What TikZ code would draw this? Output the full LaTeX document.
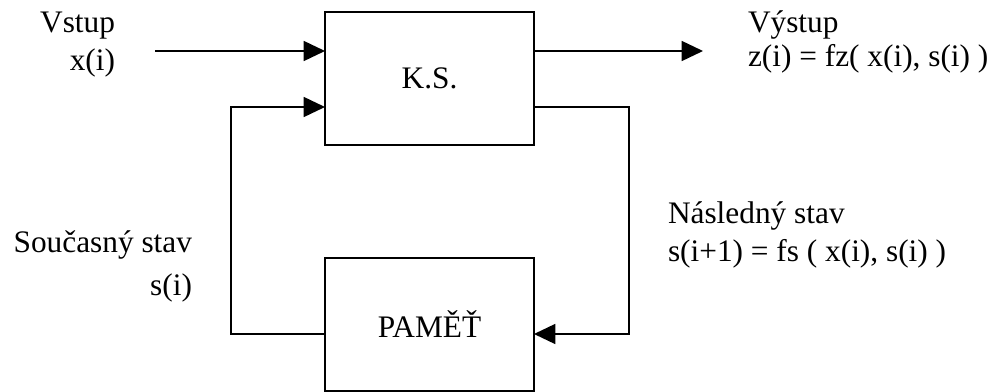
\documentclass[tikz,border=0pt]{standalone}
\usepackage{fontspec}
\setmainfont{Liberation Serif}
\usetikzlibrary{arrows.meta}
\begin{document}
\begin{tikzpicture}[x=0.75pt,y=-0.75pt,
  every node/.style={inner sep=0pt,outer sep=0pt,font=\fontsize{23.5}{28}\selectfont},
  blockbox/.style={draw,line width=1.4pt,minimum width=156.75pt,minimum height=99.75pt},
  wire/.style={line width=1.2pt},
  arr/.style={wire,-{Triangle[length=16pt,width=15pt]}},
  lbl/.style={anchor=base west},
  lblr/.style={anchor=base east}]
\useasboundingbox (0,0) rectangle (991,392);
\node[blockbox] (ks) at (429.5,78.5) {K.S.};
\node[blockbox] (pam) at (429.5,324.5) {PAMĚŤ};
\coordinate (inS) at (155,51);
\coordinate (outE) at (703,51);
\coordinate (fbL) at (231,107);
\coordinate (fbR) at (629,107);
\coordinate (lowL) at (231,334);
\coordinate (lowR) at (629,334);
\draw[arr] (inS) -- (inS -| ks.west);
\draw[arr] (ks.east |- outE) -- (outE);
\draw[arr] (pam.west |- lowL) -- (lowL) -- (fbL) -- (fbL -| ks.west);
\draw[arr] (ks.east |- fbR) -- (fbR) -- (lowR) -- (lowR -| pam.east);
\node[lblr] (t1) at (115,33) {Vstup};
\node[lblr] (t2) at (115,71) {x(i)};
\node[lbl] (t3) at (748,33) {Výstup};
\node[lbl] (t4) at (748,67) {z(i) = fz( x(i), s(i) )};
\node[lbl] (t5) at (668,223) {Následný stav};
\node[lbl] (t6) at (668,261) {s(i+1) = fs ( x(i), s(i) )};
\node[lblr] (t7) at (192,252) {Současný stav};
\node[lblr] (t8) at (192,295) {s(i)};
\end{tikzpicture}
\end{document}
